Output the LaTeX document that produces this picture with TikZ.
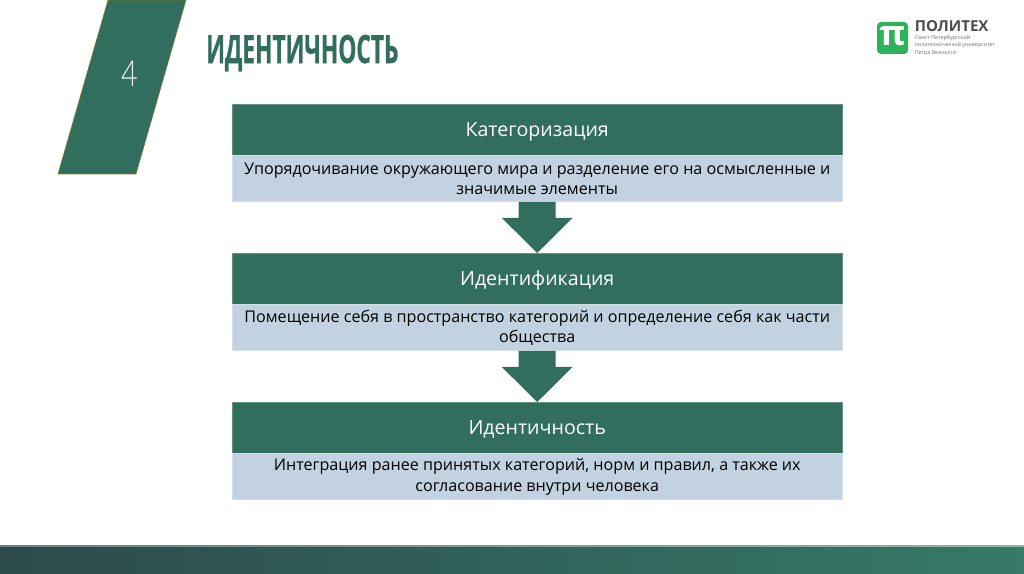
\documentclass[tikz,border=0pt]{standalone}
\usepackage{fontspec}
\usetikzlibrary{calc}
\setmainfont{Open Sans}
\newfontfamily\titlefont[FakeStretch=0.58,FakeBold=0.6]{Open Sans Bold}
\newfontfamily\thinfont[FakeStretch=0.8]{Lato Light}
\definecolor{dgreen}{HTML}{316E5D}
\definecolor{lblue}{HTML}{C2D2E0}
\definecolor{logog}{HTML}{2FB35A}
\definecolor{footl}{HTML}{2C4A4C}
\definecolor{footm}{HTML}{2D5A54}
\definecolor{footr}{HTML}{367A67}
\tikzset{
  headbox/.style={fill=dgreen,draw=dgreen!75!white,line width=0.3pt,text=white,minimum width=457.5pt,minimum height=38.25pt,inner sep=0pt,anchor=north west},
  headtext/.style={text=white,inner sep=0pt,font=\fontsize{14.7}{17}\selectfont},
  descbox/.style={fill=lblue,draw=lblue!70!white,line width=0.3pt,text=black,minimum width=457.5pt,minimum height=34.5pt,inner sep=0pt,align=center,font=\fontsize{12.08}{15.4}\selectfont,anchor=north},
  flowarrow/.style={fill=dgreen,draw=none},
}
\begin{document}
\begin{tikzpicture}[x=0.75pt,y=-0.75pt]
\useasboundingbox (0,0) rectangle (1024,574);
\fill[white] (0,0) rectangle (1024,574);
% footer
\shade[left color=footl,middle color=footm,right color=footr] (0,546) rectangle (1024,574);
\shade[left color=footl!70!white,right color=footr!55!white] (0,545.3) rectangle (1024,546.6);
% side parallelogram
\filldraw[fill=dgreen,draw=olive!70!dgreen,line width=0.4pt] (108,0) -- (186,0) -- (136,174) -- (58,174) -- cycle;
\node[text=white!92!dgreen,font=\thinfont\fontsize{27}{30}\selectfont,inner sep=0pt] (num) at (129.5,74) {4};
% title
\node[text=dgreen,font=\titlefont\fontsize{29.4}{30}\selectfont,inner sep=0pt,anchor=west] (title) at (206,53) {ИДЕНТИЧНОСТЬ};
% logo
\fill[logog,rounded corners=3pt] (877,22) rectangle (908,54);
\node[text=white,font=\fontsize{26}{26}\selectfont\bfseries,inner sep=0pt] (pi) at (892.5,36.5) {π};
\node[text=black!70,font=\fontsize{11.3}{12}\selectfont\bfseries,inner sep=0pt,anchor=west] (logoname) at (914.5,26.5) {ПОЛИТЕХ};
\node[text=black!55,font=\fontsize{4}{5.7}\selectfont,inner sep=0pt,anchor=north west,align=left] (logosub) at (914.5,35) {Санкт-Петербургский\\политехнический университет\\Петра Великого};
% boxes
\node[headbox] (h1) at (232,104) {};
\node[headtext] (t1) at ($(h1.center)+(0,2)$) {Категоризация};
\node[descbox] (d1) at (h1.south) {Упорядочивание окружающего мира и разделение его на осмысленные и\\значимые элементы};
\node[headbox] (h2) at (232,253) {};
\node[headtext] (t2) at ($(h2.center)+(0,2)$) {Идентификация};
\node[descbox] (d2) at (h2.south) {Помещение себя в пространство категорий и определение себя как части\\общества};
\node[headbox] (h3) at (232,402) {};
\node[headtext] (t3) at ($(h3.center)+(0,2)$) {Идентичность};
\node[descbox] (d3) at (h3.south) {Интеграция ранее принятых категорий, норм и правил, а также их\\согласование внутри человека};
% arrows
\foreach \a/\b in {d1/h2,d2/h3}{
  \fill[flowarrow] ($(\a.south)+(-18.5,0)$) -- ($(\a.south)+(18.5,0)$) -- ($(\a.south)+(18.5,16)$) -- ($(\a.south)+(35.5,16)$) -- (\b.north) -- ($(\a.south)+(-35.5,16)$) -- ($(\a.south)+(-18.5,16)$) -- cycle;
}
\end{tikzpicture}
\end{document}
